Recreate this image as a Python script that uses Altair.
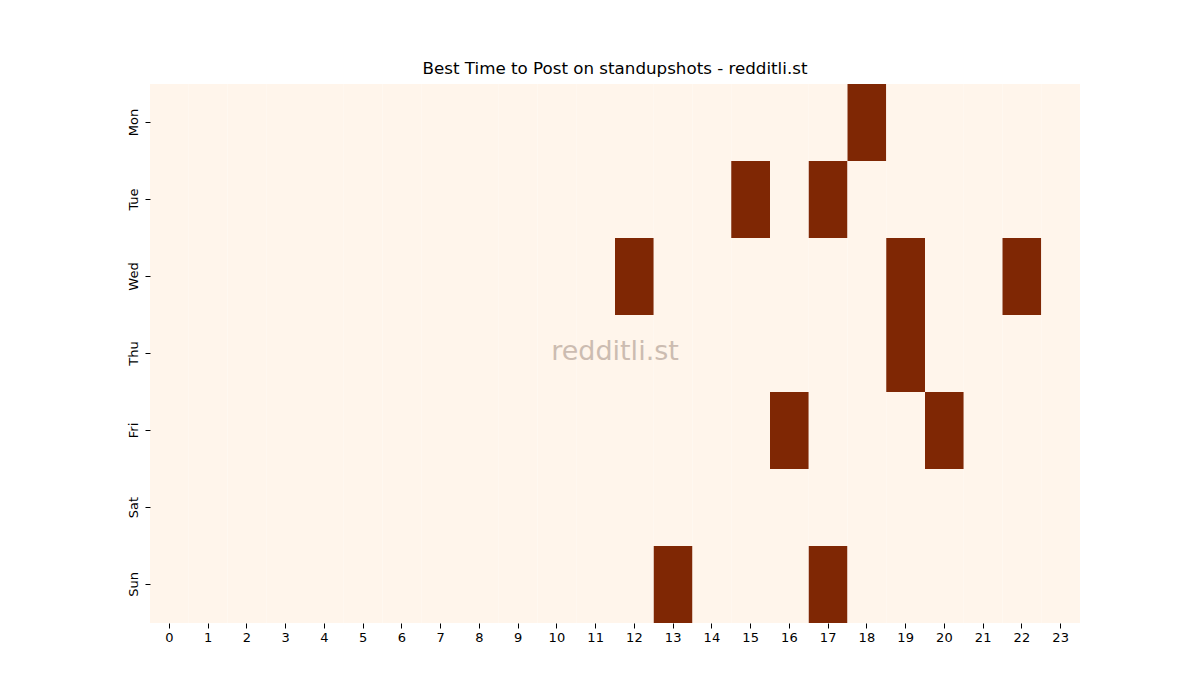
import altair as alt
import pandas as pd

days = ["Mon", "Tue", "Wed", "Thu", "Fri", "Sat", "Sun"]
hours = list(range(24))
best_mon = [18]
best_tue = [15, 17]
best_wed = [12, 19, 22]
best_thu = [19]
best_fri = [16, 20]
best_sat = []
best_sun = [13, 17]

best = {"Mon": best_mon, "Tue": best_tue, "Wed": best_wed, "Thu": best_thu,
        "Fri": best_fri, "Sat": best_sat, "Sun": best_sun}

rows = []
for d in days:
    for h in hours:
        rows.append({"day": d, "hour": h, "value": 1 if h in best[d] else 0})
df = pd.DataFrame(rows)

heat = alt.Chart(df).mark_rect().encode(
    x=alt.X("hour:O", sort=hours, title=None,
            axis=alt.Axis(labelAngle=0, labelFontSize=13, tickSize=5, domain=False,
                          labelColor="black", tickColor="black", labelFont="DejaVu Sans",
                          labelPadding=3)),
    y=alt.Y("day:O", sort=days, title=None,
            axis=alt.Axis(labelAngle=270, labelAlign="center", labelBaseline="bottom",
                          labelFontSize=13, tickSize=5, domain=False, labelColor="black",
                          tickColor="black", labelFont="DejaVu Sans", labelPadding=5)),
    color=alt.Color("value:Q", scale=alt.Scale(domain=[0, 1], range=["#fff5eb", "#7f2704"]),
                    legend=None),
)

wm = alt.Chart(pd.DataFrame({"t": ["redditli.st"]})).mark_text(
    fontSize=27, font="DejaVu Sans", color="#9a8478", opacity=0.5
).encode(text="t:N", x=alt.value(465), y=alt.value(268))

chart = alt.layer(heat, wm).properties(
    width=930, height=539,
    title=alt.TitleParams("Best Time to Post on standupshots - redditli.st", fontSize=16.7,
                          font="DejaVu Sans", fontWeight="normal", offset=6),
    autosize=alt.AutoSizeParams(type="none"),
    padding={"left": 142, "top": 76, "right": 0, "bottom": 60},
).configure_view(stroke=None).configure_axis(grid=False)

chart.save("out.html", embed_options={"renderer": "svg", "actions": False})
